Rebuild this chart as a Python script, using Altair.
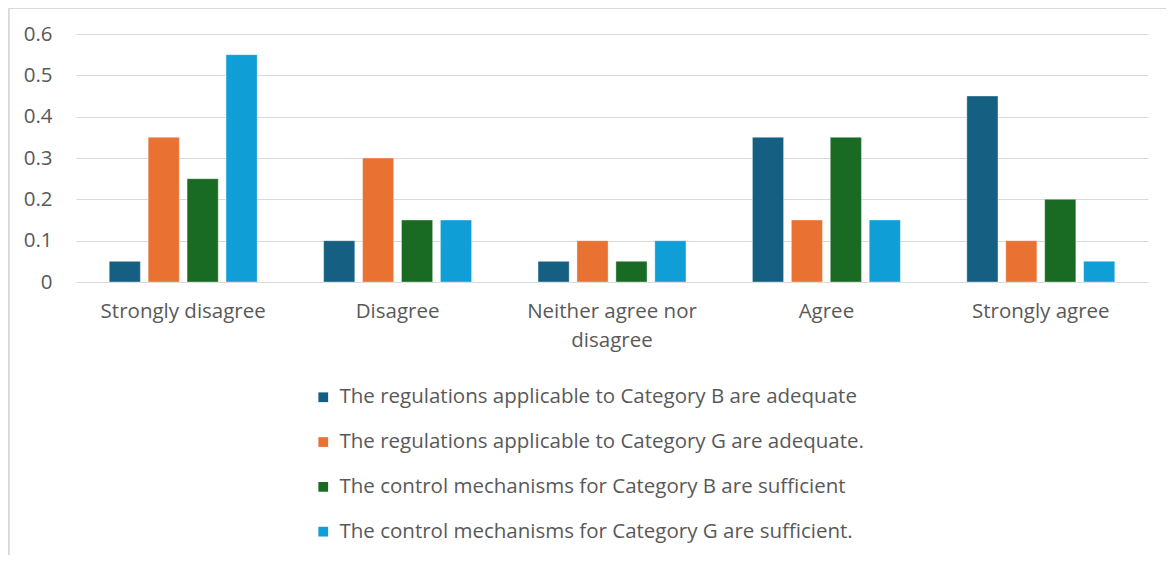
import altair as alt
import pandas as pd

categories = ["Strongly disagree", "Disagree", "Neither agree nor disagree", "Agree", "Strongly agree"]
series = [
    " The regulations applicable to Category B are adequate",
    "The regulations applicable to Category G are adequate.",
    "The control mechanisms for Category B are sufficient",
    "The control mechanisms for Category G are sufficient.",
]
reg_b = [0.05, 0.10, 0.05, 0.35, 0.45]
reg_g = [0.35, 0.30, 0.10, 0.15, 0.10]
ctl_b = [0.25, 0.15, 0.05, 0.35, 0.20]
ctl_g = [0.55, 0.15, 0.10, 0.15, 0.05]
colors = ["#156082", "#E97132", "#196B24", "#0F9ED5"]

rows = []
for s, vals in zip(series, [reg_b, reg_g, ctl_b, ctl_g]):
    for c, v in zip(categories, vals):
        rows.append({"category": c, "series": s, "value": v})
df = pd.DataFrame(rows)

FONT = "Open Sans"
TXT = "#595959"

bars = alt.Chart(df).mark_bar(stroke="white", strokeWidth=0.6, strokeOpacity=0.6).encode(
    x=alt.X("category:N", sort=categories, title=None,
            scale=alt.Scale(paddingInner=0.31, paddingOuter=0.155),
            axis=alt.Axis(labelAngle=0, labelFontSize=20.5, labelColor=TXT, labelFont=FONT,
                          labelPadding=19, ticks=False, domain=False, grid=False,
                          labelLineHeight=29,
                          labelExpr="datum.label == 'Neither agree nor disagree' ? ['Neither agree nor', 'disagree'] : datum.label")),
    xOffset=alt.XOffset("series:N", sort=series, scale=alt.Scale(paddingInner=0.2, paddingOuter=0)),
    y=alt.Y("value:Q", title=None,
            scale=alt.Scale(domain=[0, 0.6], nice=False),
            axis=alt.Axis(values=[0, 0.1, 0.2, 0.3, 0.4, 0.5, 0.6], labelFontSize=20.5, labelColor=TXT,
                          labelFont=FONT, labelPadding=24, ticks=False, domain=False,
                          gridColor="#D9D9D9", gridWidth=1.2,
                          labelExpr="datum.value == 0 ? '0' : format(datum.value, '.1f')")),
    color=alt.Color("series:N", sort=series, title=None,
                    scale=alt.Scale(domain=series, range=colors),
                    legend=alt.Legend(orient="none", legendX=237, legendY=353, direction="vertical",
                                      symbolType="square", symbolSize=95, symbolStrokeWidth=0,
                                      labelFontSize=20.5, labelColor=TXT, labelFont=FONT,
                                      labelLimit=800, rowPadding=23.8, symbolOffset=0, labelOffset=6)),
)

# chart-area border (top and left edges, as in the reference frame)
border_top = alt.Chart(df).mark_rule(color="#D9D9D9", strokeWidth=1.2).encode(
    x=alt.value(-68), x2=alt.value(1090), y=alt.value(-25.5)
)
border_left = alt.Chart(df).mark_rule(color="#D9D9D9", strokeWidth=1.2).encode(
    x=alt.value(-67.5), y=alt.value(-26), y2=alt.value(521)
)

chart = alt.layer(bars, border_top, border_left).properties(
    width=1072, height=248,
    autosize=alt.AutoSizeParams(type="none"),
    padding={"left": 68, "top": 26, "right": 18, "bottom": 273},
).configure_view(stroke=None)

chart.save("out.html", embed_options={"renderer": "svg", "actions": False})
